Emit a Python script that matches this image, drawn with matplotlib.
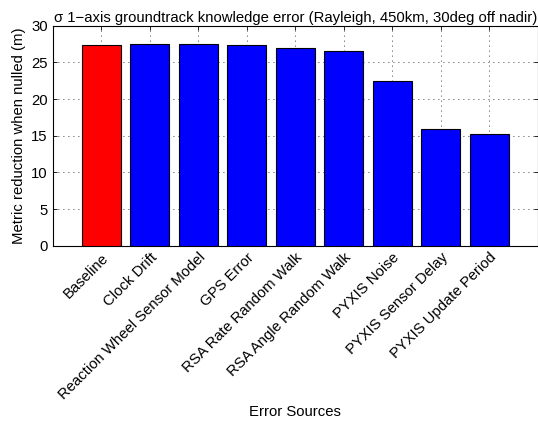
import numpy as np
import matplotlib
matplotlib.use('Agg')
import matplotlib.pyplot as plt

plt.rcParams['font.family'] = ['Liberation Sans', 'DejaVu Sans']

# data
lis_source = ['Baseline', 'Clock Drift', 'Reaction Wheel Sensor Model', 'GPS Error',
              'RSA Rate Random Walk', 'RSA Angle Random Walk', 'PYXIS Noise',
              'PYXIS Sensor Delay', 'PYXIS Update Period']
v_reduction = [27.4, 27.45, 27.45, 27.35, 27.0, 26.6, 22.45, 15.9, 15.2]
lis_color = ['#ff0000'] + ['#0000ff'] * 8

fs = 10.7

fig = plt.figure(figsize=(5.38, 4.24), dpi=100)
ax = fig.add_axes([0.0978, 0.4205, 0.902, 0.5189])

x = np.arange(1, len(lis_source) + 1)
ax.bar(x, v_reduction, width=0.8, color=lis_color, edgecolor='black', linewidth=0.8, zorder=3)

ax.set_xlim(0, 10)
ax.set_ylim(0, 30)
ax.set_yticks(np.arange(0, 31, 5))
ax.set_xticks(x)
ax.set_xticklabels(lis_source, rotation=45, ha='right', rotation_mode='anchor', fontsize=fs)
ax.tick_params(axis='y', labelsize=fs)
ax.tick_params(direction='in', top=True, right=True, length=3, width=0.6)
ax.grid(True, linestyle=(0, (1, 5)), color='black', linewidth=0.6, zorder=0)
for sp in ax.spines.values():
    sp.set_linewidth(0.8)

ax.set_title('\u03c3 1\u2212axis groundtrack knowledge error (Rayleigh, 450km, 30deg off nadir)',
             fontsize=fs, pad=3)
ax.set_ylabel('Metric reduction when nulled (m)', fontsize=fs)
ax.set_xlabel('Error Sources', fontsize=fs)
ax.xaxis.set_label_coords(0.5, -0.725)

fig.savefig('out.png', dpi=100)
